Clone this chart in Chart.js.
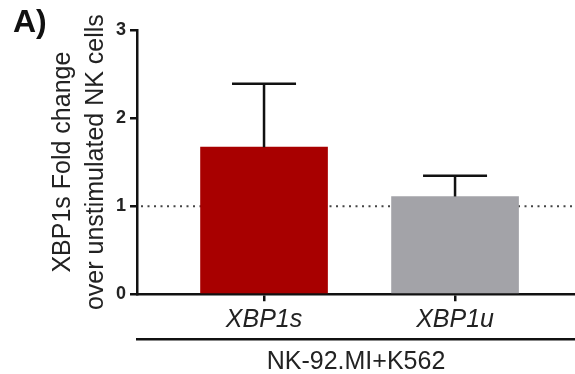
<!DOCTYPE html>
<html>
<head>
<meta charset="utf-8">
<script src="https://cdn.jsdelivr.net/npm/chart.js@4"></script>
<style>
  html, body { margin: 0; padding: 0; background: #fff; }
  #wrap { width: 575px; height: 374px; }
</style>
</head>
<body>
<div id="wrap"><canvas id="foldChart"></canvas></div>
<script>
var categories = ['XBP1s', 'XBP1u'];
var foldMeans = [1.67, 1.11];
var foldErrors = [0.72, 0.235];
var yTicks = [0, 1, 2, 3];
var baselineValue = 1;
var groupLabel = 'NK-92.MI+K562';
var yTitle = ['XBP1s Fold change', 'over unstimulated NK cells'];
var barColors = ['#a80000', '#a3a3a8'];

var FONT = "'Liberation Sans', Arial, sans-serif";

// dotted line at 1, drawn behind the bars
var baselinePlugin = {
    id: 'baseline',
    beforeDatasetsDraw: function(chart) {
        var ctx = chart.ctx, area = chart.chartArea;
        var y = chart.scales.y.getPixelForValue(baselineValue);
        ctx.save();
        ctx.strokeStyle = '#444';
        ctx.lineWidth = 2;
        ctx.setLineDash([2, 4.5]);
        ctx.beginPath();
        ctx.moveTo(area.left + 4, y);
        ctx.lineTo(area.right, y);
        ctx.stroke();
        ctx.restore();
    }
};

// upper error bars + panel letter
var errorBarPlugin = {
    id: 'errorBars',
    afterDatasetsDraw: function(chart) {
        var ctx = chart.ctx;
        var meta = chart.getDatasetMeta(0);
        var yScale = chart.scales.y;
        ctx.save();
        ctx.strokeStyle = '#111';
        ctx.lineWidth = 2.5;
        meta.data.forEach(function(bar, i) {
            var x = bar.x;
            var yTop = yScale.getPixelForValue(foldMeans[i] + foldErrors[i]);
            var yMean = yScale.getPixelForValue(foldMeans[i]);
            ctx.beginPath();
            ctx.moveTo(x, yMean);
            ctx.lineTo(x, yTop);
            ctx.moveTo(x - 32, yTop);
            ctx.lineTo(x + 32, yTop);
            ctx.stroke();
        });
        ctx.fillStyle = '#111';
        ctx.font = 'bold 32px ' + FONT;
        ctx.textBaseline = 'alphabetic';
        ctx.fillText('A)', 13, 32);
        ctx.restore();
    }
};

new Chart(document.getElementById('foldChart'), {
    type: 'bar',
    data: {
        datasets: [{
            data: categories.map(function(c, i) { return { x: i, y: foldMeans[i] }; }),
            backgroundColor: barColors,
            borderWidth: 0,
            barThickness: 127
        }]
    },
    options: {
        responsive: true,
        maintainAspectRatio: false,
        animation: false,
        layout: { padding: { left: 40, top: 30, right: 0, bottom: 0 } },
        plugins: { legend: { display: false }, tooltip: { enabled: false } },
        scales: {
            x: {
                type: 'linear',
                offset: false,
                min: -0.665,
                max: 1.628,
                afterBuildTicks: function(scale) {
                    scale.ticks = categories.map(function(c, i) { return { value: i }; });
                },
                grid: { display: true, offset: false, drawOnChartArea: false, tickLength: 7, color: '#111', lineWidth: 2.5 },
                border: { display: true, color: '#111', width: 2.5 },
                ticks: {
                    padding: 4,
                    color: '#222',
                    font: { family: FONT, size: 25, style: 'italic' },
                    callback: function(v) { return categories[v]; }
                }
            },
            x2: {
                type: 'linear',
                position: 'bottom',
                offset: false,
                min: -0.665,
                max: 1.628,
                grid: { display: false, drawTicks: false },
                border: { display: true, color: '#111', width: 2.5 },
                ticks: { display: false },
                title: {
                    display: true,
                    text: groupLabel,
                    color: '#222',
                    font: { family: FONT, size: 25, lineHeight: 0.99 },
                    padding: { top: 10, bottom: 0 }
                }
            },
            y: {
                min: 0,
                max: 3,
                afterBuildTicks: function(scale) {
                    scale.ticks = yTicks.map(function(v) { return { value: v }; });
                },
                grid: { display: true, drawOnChartArea: false, tickLength: 7, color: '#111', lineWidth: 2.5 },
                border: { display: true, color: '#111', width: 2.5 },
                ticks: {
                    padding: 4,
                    color: '#222',
                    font: { family: FONT, size: 18, weight: 'bold' }
                },
                title: {
                    display: true,
                    text: yTitle,
                    color: '#222',
                    font: { family: FONT, size: 25, lineHeight: 1.3 },
                    padding: { top: 7, bottom: 0 }
                }
            }
        }
    },
    plugins: [baselinePlugin, errorBarPlugin]
});
</script>
</body>
</html>
